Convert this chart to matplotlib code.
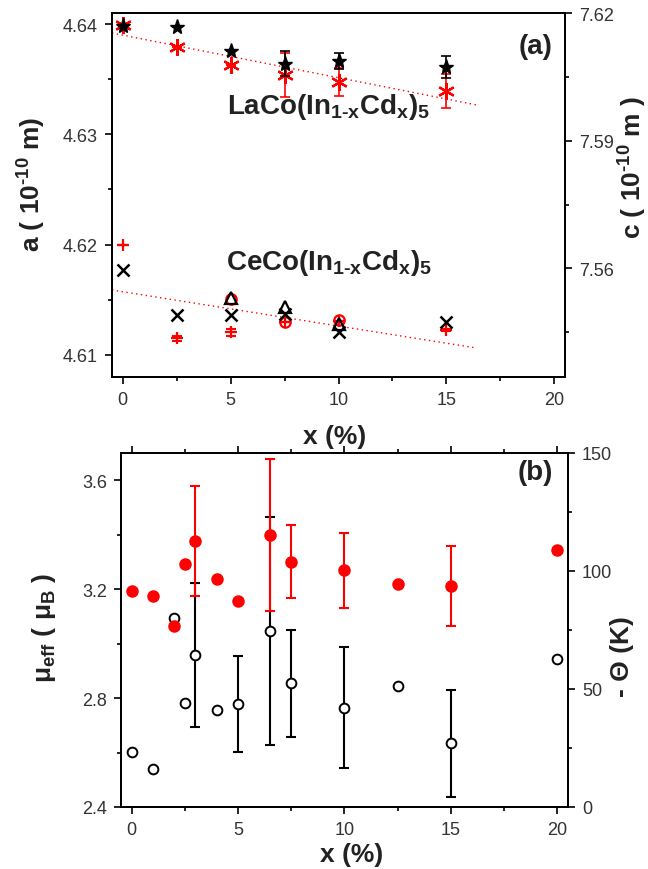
import matplotlib
matplotlib.use("Agg")
import matplotlib.pyplot as plt
from matplotlib.ticker import MultipleLocator

plt.rcParams['font.family'] = ['Liberation Sans', 'DejaVu Sans']
plt.rcParams['mathtext.fontset'] = 'custom'
plt.rcParams['mathtext.rm'] = 'Liberation Sans:bold'
plt.rcParams['mathtext.bf'] = 'Liberation Sans:bold'
plt.rcParams['mathtext.it'] = 'Liberation Sans:bold'
plt.rcParams['mathtext.default'] = 'bf'

# ---------------- Panel (a) data ----------------
x_la = [0, 2.5, 5, 7.5, 10, 15]
a_la = [4.63978, 4.63973, 4.63759, 4.63641, 4.63662, 4.63608]
a_la_err = [0, 0, 0, 0.00116, 0.00072, 0.00098]
c_la = [7.61718, 7.61208, 7.60786, 7.60544, 7.60386, 7.60175]
c_la_err = [0, 0, 0, 0.0052, 0.0033, 0.0040]

x_ce = [0, 2.5, 5, 7.5, 10, 15]
a_ce = [4.61772, 4.61363, 4.61363, 4.61372, 4.61207, 4.61302]
c_ce = [7.56557, 7.54359, 7.54500, 7.54749, 7.54772, 7.54553]
c_ce_err = [0, 0.0006, 0.0008, 0, 0, 0.0003]

x_tri = [5, 7.5, 10]
a_tri = [4.61517, 4.61433, 4.61282]
c_circ = [7.55282, 7.54749, 7.54789]

fit_x = [-0.5, 16.4]
fit_c_la = [7.6153, 7.5984]
fit_c_ce = [7.55493, 7.54131]

# ---------------- Panel (b) data ----------------
x_mu = [0, 1, 2, 2.5, 3, 4, 5, 6.5, 7.5, 10, 12.5, 15, 20]
mu_eff = [3.192, 3.175, 3.065, 3.294, 3.377, 3.236, 3.155, 3.399, 3.300, 3.270, 3.218, 3.212, 3.344]
mu_err = [0, 0, 0, 0, 0.201, 0, 0, 0.278, 0.134, 0.138, 0, 0.147, 0]
theta = [23.4, 16.1, 80.1, 44.1, 64.4, 41.1, 43.6, 74.5, 52.4, 42.0, 51.1, 27.0, 62.7]
theta_err = [0, 0, 0, 0, 30.4, 0, 20.2, 48.4, 22.6, 25.6, 0, 22.7, 0]

W, H = 648, 870
fig = plt.figure(figsize=(W / 100, H / 100), dpi=100)

TICK_COLOR = '#333333'
TEXT_COLOR = '#222222'


def style_axis(ax):
    for s in ax.spines.values():
        s.set_linewidth(1.3)
    ax.tick_params(which='both', direction='out', width=1.2, labelsize=13,
                   labelcolor=TICK_COLOR)
    ax.tick_params(which='major', length=5, pad=5)
    ax.tick_params(which='minor', length=3)


def px_axes(left, top, right, bottom):
    return [left / W, 1 - bottom / H, (right - left) / W, (bottom - top) / H]


# ---------- Panel (a) ----------
ax_a = fig.add_axes(px_axes(112, 14, 565, 378))
ax_c = ax_a.twinx()
ax_a.set_zorder(ax_c.get_zorder() + 1)
ax_a.patch.set_visible(False)

ax_a.set_xlim(-0.5, 20.5)
ax_a.set_ylim(4.608, 4.641)
ax_c.set_ylim(7.5345, 7.62)

ax_a.xaxis.set_major_locator(MultipleLocator(5))
ax_a.xaxis.set_minor_locator(MultipleLocator(2.5))
ax_a.yaxis.set_major_locator(MultipleLocator(0.01))
ax_a.yaxis.set_minor_locator(MultipleLocator(0.005))
ax_c.yaxis.set_major_locator(MultipleLocator(0.03))
ax_c.yaxis.set_minor_locator(MultipleLocator(0.015))
ax_a.yaxis.set_major_formatter(plt.FormatStrFormatter('%.2f'))
ax_c.yaxis.set_major_formatter(plt.FormatStrFormatter('%.2f'))
style_axis(ax_a)
style_axis(ax_c)

# fit lines (red dotted)
ax_c.plot(fit_x, fit_c_la, linestyle=(0, (1, 2.5)), color='red', lw=1.0, zorder=1)
ax_c.plot(fit_x, fit_c_ce, linestyle=(0, (1, 2.5)), color='red', lw=1.0, zorder=1)

# red series on c axis
ax_c.errorbar(x_la, c_la, yerr=c_la_err, fmt='none', ecolor='red', elinewidth=1.2,
              capsize=3.5, capthick=1.2, zorder=2)
ax_c.plot(x_la, c_la, linestyle='none', marker=(6, 2, 0), ms=12, mew=1.6,
          color='red', zorder=3)
ax_c.errorbar(x_ce, c_ce, yerr=c_ce_err, fmt='none', ecolor='red', elinewidth=1.2,
              capsize=3.5, capthick=1.5, zorder=2)
ax_c.plot(x_ce, c_ce, linestyle='none', marker='+', ms=9, mew=1.6,
          color='red', zorder=3)
ax_c.plot(x_tri, c_circ, linestyle='none', marker='o', ms=7.5, mew=1.6,
          mfc='none', mec='red', zorder=3)

# black series on a axis
ax_a.errorbar(x_la, a_la, yerr=a_la_err, fmt='none', ecolor='black', elinewidth=1.2,
              capsize=3.5, capthick=1.2, zorder=2)
ax_a.plot(x_la, a_la, linestyle='none', marker='*', ms=11, color='black', zorder=3)
ax_a.plot(x_ce, a_ce, linestyle='none', marker='x', ms=9, mew=1.8,
          color='black', zorder=3)
ax_a.plot(x_tri, a_tri, linestyle='none', marker='^', ms=9, mew=1.6,
          mfc='none', mec='black', zorder=3)

ax_a.text(0.477, 0.745, r'LaCo(In$_{1\text{-}x}$Cd$_{x}$)$_{5}$', transform=ax_a.transAxes,
          ha='center', va='center', fontsize=20, fontweight='bold', color=TEXT_COLOR)
ax_a.text(0.48, 0.315, r'CeCo(In$_{1\text{-}x}$Cd$_{x}$)$_{5}$', transform=ax_a.transAxes,
          ha='center', va='center', fontsize=20, fontweight='bold', color=TEXT_COLOR)
ax_a.text(0.934, 0.909, '(a)', transform=ax_a.transAxes, ha='center', va='center',
          fontsize=20, fontweight='bold', color=TEXT_COLOR)

ax_a.text(-0.177, 0.533, r'a ( 10$^{\text{-}10}$ m)', transform=ax_a.transAxes, rotation=90,
          ha='center', va='center', fontsize=19, fontweight='bold', color=TEXT_COLOR)
ax_a.text(1.150, 0.577, r'c ( 10$^{\text{-}10}$ m )', transform=ax_a.transAxes, rotation=90,
          ha='center', va='center', fontsize=19, fontweight='bold', color=TEXT_COLOR)
ax_a.text(0.492, -0.162, 'x (%)', transform=ax_a.transAxes,
          ha='center', va='center', fontsize=19, fontweight='bold', color=TEXT_COLOR)

# ---------- Panel (b) ----------
ax_mu = fig.add_axes(px_axes(121, 454, 568, 808))
ax_th = ax_mu.twinx()
ax_mu.set_zorder(ax_th.get_zorder() + 1)
ax_mu.patch.set_visible(False)

ax_mu.set_xlim(-0.5, 20.5)
ax_mu.set_ylim(2.4, 3.7)
ax_th.set_ylim(0, 150)
ax_mu.xaxis.set_major_locator(MultipleLocator(5))
ax_mu.xaxis.set_minor_locator(MultipleLocator(2.5))
ax_mu.yaxis.set_major_locator(MultipleLocator(0.4))
ax_mu.yaxis.set_minor_locator(MultipleLocator(0.2))
ax_th.yaxis.set_major_locator(MultipleLocator(50))
ax_th.yaxis.set_minor_locator(MultipleLocator(25))
ax_mu.yaxis.set_major_formatter(plt.FormatStrFormatter('%.1f'))
style_axis(ax_mu)
style_axis(ax_th)
ax_mu.tick_params(axis='x', which='both', top=True)

ax_th.errorbar(x_mu, theta, yerr=theta_err, fmt='none', ecolor='black', elinewidth=1.5,
               capsize=3.5, capthick=1.5, zorder=2)
ax_th.plot(x_mu, theta, linestyle='none', marker='o', ms=7, mew=1.4,
           mfc='white', mec='black', zorder=3)

ax_mu.errorbar(x_mu, mu_eff, yerr=mu_err, fmt='none', ecolor='red', elinewidth=1.5,
               capsize=3.5, capthick=1.5, zorder=2)
ax_mu.plot(x_mu, mu_eff, linestyle='none', marker='o', ms=8, color='red', zorder=3)

ax_mu.text(0.926, 0.946, '(b)', transform=ax_mu.transAxes, ha='center', va='center',
           fontsize=20, fontweight='bold', color=TEXT_COLOR)
ax_mu.text(-0.172, 0.508, r'μ$_{eff}$ ( μ$_{B}$ )', transform=ax_mu.transAxes, rotation=90,
           ha='center', va='center', fontsize=19, fontweight='bold', color=TEXT_COLOR)
ax_mu.text(1.121, 0.427, '- Θ (K)', transform=ax_mu.transAxes, rotation=90,
           ha='center', va='center', fontsize=19, fontweight='bold', color=TEXT_COLOR)
ax_mu.text(0.517, -0.133, 'x (%)', transform=ax_mu.transAxes,
           ha='center', va='center', fontsize=19, fontweight='bold', color=TEXT_COLOR)

fig.savefig('out.png', dpi=100)
